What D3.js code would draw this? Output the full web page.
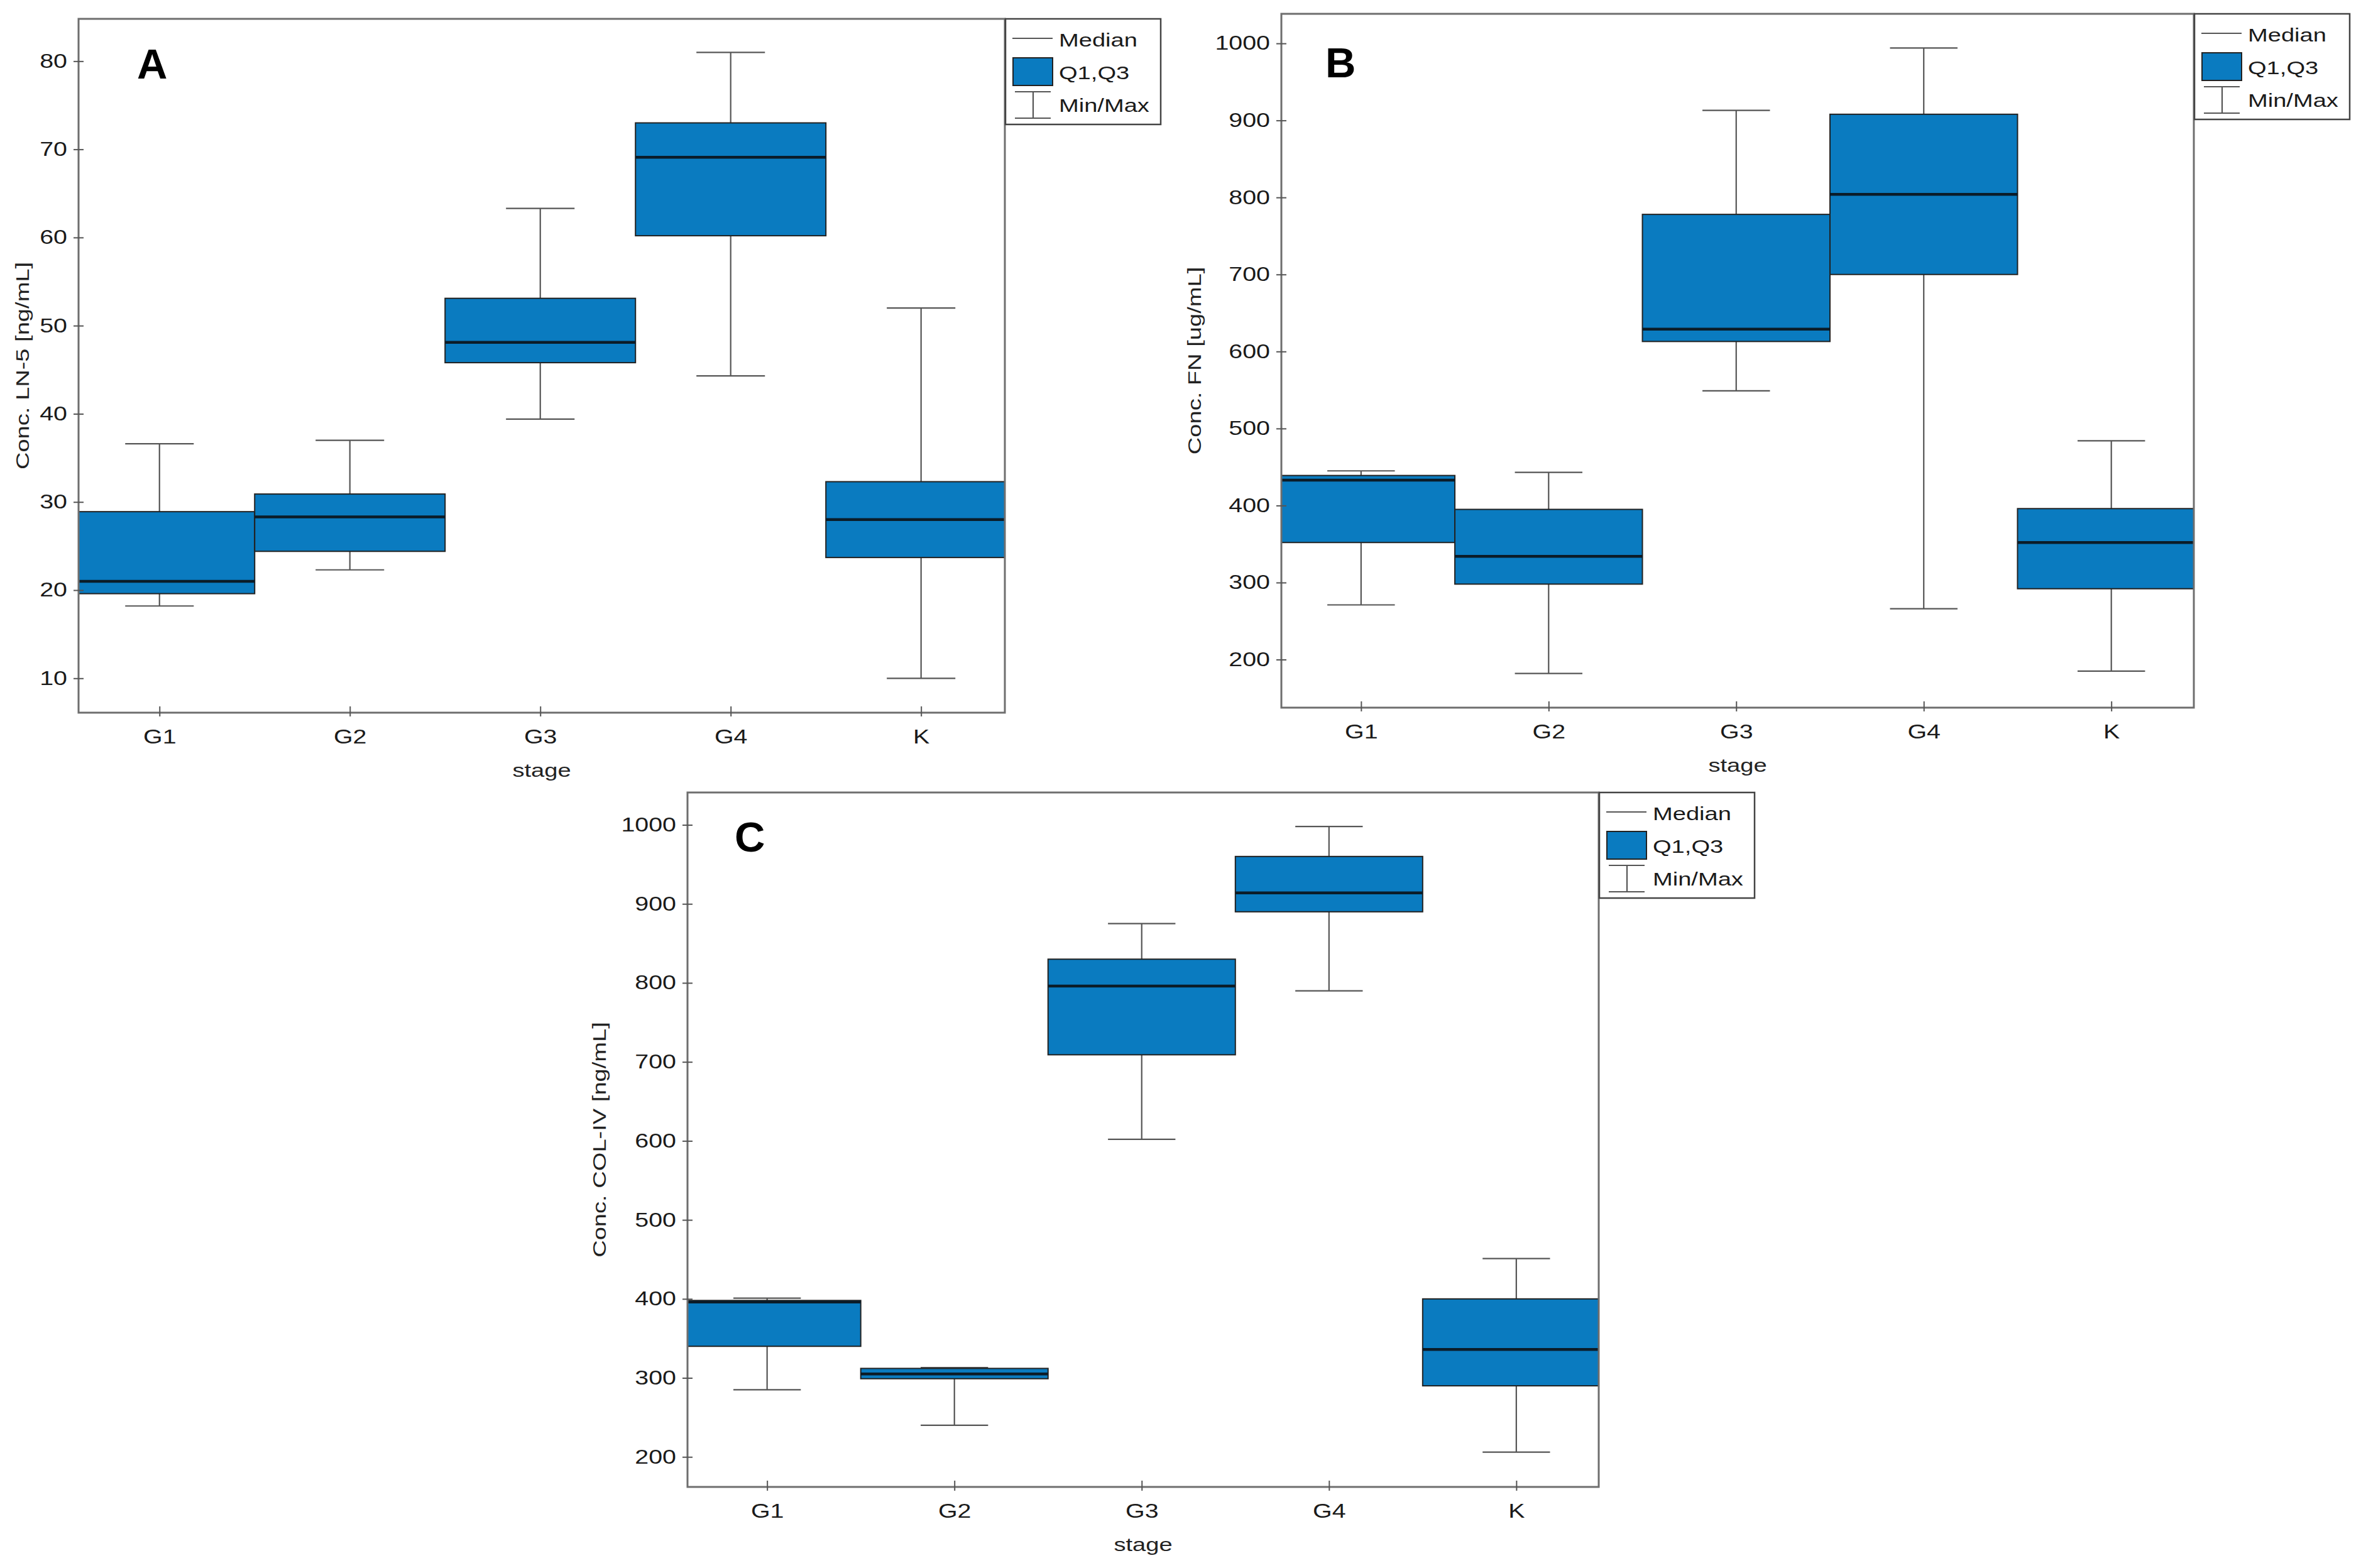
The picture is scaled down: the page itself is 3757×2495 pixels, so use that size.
<!DOCTYPE html>
<html>
<head>
<meta charset="utf-8">
<script src="https://cdn.jsdelivr.net/npm/d3@7"></script>
<style>
  body { margin: 0; background: #fff; }
  svg { display: block; }
  text { font-family: "Liberation Sans", Arial, sans-serif; }
</style>
</head>
<body>
<svg id="fig"></svg>
<script>
const stages = ['G1', 'G2', 'G3', 'G4', 'K'];

// A: LN-5 [ng/mL]
const lnMin = [18.2, 22.3, 39.4, 44.3, 10.0];
const lnQ1  = [19.6, 24.4, 45.8, 60.2, 23.7];
const lnMed = [21.0, 28.3, 48.1, 69.1, 28.0];
const lnQ3  = [28.9, 30.9, 53.1, 73.0, 32.3];
const lnMax = [36.6, 37.0, 63.3, 81.0, 52.0];
const lnTicks = [10, 20, 30, 40, 50, 60, 70, 80];

// B: FN [ug/mL]
const fnMin = [271, 182, 549, 266, 185];
const fnQ1  = [352, 298, 613, 700, 292];
const fnMed = [433, 334, 629, 804, 352];
const fnQ3  = [439, 395, 778, 908, 396];
const fnMax = [445, 443, 913, 994, 484];

// C: COL-IV [ng/mL]
const colMin = [285, 240, 602, 790, 206];
const colQ1  = [340, 299, 709, 890, 290];
const colMed = [396, 305, 796, 914, 336];
const colQ3  = [398, 312, 830, 960, 400];
const colMax = [401, 313, 875, 998, 451];

const hundredTicks = [200, 300, 400, 500, 600, 700, 800, 900, 1000];

const legendLabels = ['Median', 'Q1,Q3', 'Min/Max'];

const W = 3757, H = 2495;
const boxFill = '#0a7bc0';
const wide = 1.27; // the original text is drawn noticeably wider than Arial

const panels = [
  { letter: 'A', title: 'Conc. LN-5 [ng/mL]', x: 125, y: 30, w: 1474, h: 1104,
    yDomain: [6.1, 84.8], ticks: lnTicks, titleDx: -89, letterPos: [93, 95],
    min: lnMin, q1: lnQ1, med: lnMed, q3: lnQ3, max: lnMax },
  { letter: 'B', title: 'Conc. FN [ug/mL]', x: 2039, y: 22, w: 1452, h: 1104,
    yDomain: [137.6, 1038.4], ticks: hundredTicks, titleDx: -138, letterPos: [70, 101],
    min: fnMin, q1: fnQ1, med: fnMed, q3: fnQ3, max: fnMax },
  { letter: 'C', title: 'Conc. COL-IV [ng/mL]', x: 1094, y: 1261, w: 1450, h: 1105,
    yDomain: [162, 1041], ticks: hundredTicks, titleDx: -140, letterPos: [75, 94],
    min: colMin, q1: colQ1, med: colMed, q3: colQ3, max: colMax }
];

function stretch(sel, k) {
  sel.each(function () {
    const t = d3.select(this);
    const x0 = +t.attr('x') || 0;
    const prev = t.attr('transform') || '';
    t.attr('transform', `${prev} translate(${x0},0) scale(${k},1) translate(${-x0},0)`);
  });
}

const svg = d3.select('#fig').attr('width', W).attr('height', H);

panels.forEach((p, pi) => {
  const g = svg.append('g').attr('transform', `translate(${p.x},${p.y})`);

  const x = d3.scaleLinear().domain([0.575, 5.44]).range([0, p.w]);
  const y = d3.scaleLinear().domain(p.yDomain).range([p.h, 0]);

  const clipId = 'clip' + pi;
  g.append('clipPath').attr('id', clipId)
    .append('rect').attr('width', p.w).attr('height', p.h);

  const rows = stages.map((s, i) => ({
    pos: i + 1, min: p.min[i], q1: p.q1[i], med: p.med[i], q3: p.q3[i], max: p.max[i]
  }));

  const marks = g.append('g').attr('clip-path', `url(#${clipId})`);

  // whiskers
  marks.selectAll('.stem').data(rows).enter().append('line')
    .attr('x1', d => x(d.pos)).attr('x2', d => x(d.pos))
    .attr('y1', d => y(d.min)).attr('y2', d => y(d.max))
    .attr('stroke', '#555').attr('stroke-width', 2.2);
  ['min', 'max'].forEach(k => {
    marks.selectAll('.cap-' + k).data(rows).enter().append('line')
      .attr('x1', d => x(d.pos - 0.18)).attr('x2', d => x(d.pos + 0.18))
      .attr('y1', d => y(d[k])).attr('y2', d => y(d[k]))
      .attr('stroke', '#555').attr('stroke-width', 2.2);
  });

  // boxes
  marks.selectAll('.box').data(rows).enter().append('rect')
    .attr('x', d => x(d.pos - 0.5))
    .attr('width', d => x(d.pos + 0.5) - x(d.pos - 0.5))
    .attr('y', d => y(d.q3))
    .attr('height', d => y(d.q1) - y(d.q3))
    .attr('fill', boxFill).attr('stroke', '#222').attr('stroke-width', 2);

  marks.selectAll('.median').data(rows).enter().append('line')
    .attr('x1', d => x(d.pos - 0.5)).attr('x2', d => x(d.pos + 0.5))
    .attr('y1', d => y(d.med)).attr('y2', d => y(d.med))
    .attr('stroke', '#0b1c28').attr('stroke-width', 4.5);

  // frame
  g.append('rect').attr('width', p.w).attr('height', p.h)
    .attr('fill', 'none').attr('stroke', '#6e6e6e').attr('stroke-width', 3);

  // axes
  const yAxis = g.append('g').attr('transform', 'translate(8,0)')
    .call(d3.axisLeft(y).tickValues(p.ticks).tickFormat(d3.format('d'))
      .tickSize(16).tickPadding(10));
  const xAxis = g.append('g').attr('transform', `translate(0,${p.h - 10})`)
    .call(d3.axisBottom(x).tickValues([1, 2, 3, 4, 5])
      .tickFormat(v => stages[v - 1]).tickSize(16).tickPadding(21));
  [yAxis, xAxis].forEach(a => {
    a.select('.domain').remove();
    a.selectAll('.tick line').attr('stroke', '#555').attr('stroke-width', 2);
    a.selectAll('.tick text').attr('font-size', 31).attr('fill', '#1a1a1a')
      .attr('font-family', '"Liberation Sans", Arial, sans-serif')
      .call(stretch, wide);
  });

  // titles
  g.append('text')
    .attr('transform', `translate(${p.titleDx},${p.h / 2}) rotate(-90)`)
    .attr('text-anchor', 'middle').attr('dominant-baseline', 'central')
    .attr('font-size', 30).attr('fill', '#222')
    .text(p.title).call(stretch, wide);
  g.append('text')
    .attr('x', p.w / 2).attr('y', p.h + 92)
    .attr('text-anchor', 'middle').attr('dominant-baseline', 'central')
    .attr('font-size', 30).attr('fill', '#222')
    .text('stage').call(stretch, wide);
  g.append('text')
    .attr('x', p.letterPos[0]).attr('y', p.letterPos[1])
    .attr('font-size', 67).attr('font-weight', 'bold').attr('fill', '#000')
    .text(p.letter);

  // legend
  const lg = g.append('g').attr('transform', `translate(${p.w + 1},0)`);
  lg.append('rect').attr('width', 247).attr('height', 168)
    .attr('fill', '#fff').attr('stroke', '#444').attr('stroke-width', 2.5);
  lg.append('line').attr('x1', 11).attr('x2', 75).attr('y1', 31).attr('y2', 31)
    .attr('stroke', '#555').attr('stroke-width', 2.2);
  lg.append('rect').attr('x', 12).attr('y', 62).attr('width', 63).attr('height', 44)
    .attr('fill', boxFill).attr('stroke', '#222').attr('stroke-width', 2);
  lg.append('line').attr('x1', 44).attr('x2', 44).attr('y1', 116).attr('y2', 158)
    .attr('stroke', '#555').attr('stroke-width', 2.2);
  [116, 158].forEach(v => lg.append('line').attr('x1', 15).attr('x2', 72)
    .attr('y1', v).attr('y2', v).attr('stroke', '#555').attr('stroke-width', 2.2));
  lg.selectAll('.ltext').data(legendLabels).enter().append('text')
    .attr('x', 85).attr('y', (d, i) => [34, 86, 138][i])
    .attr('dominant-baseline', 'central')
    .attr('font-size', 30).attr('fill', '#1a1a1a')
    .text(d => d).call(stretch, wide);
});
</script>
</body>
</html>
